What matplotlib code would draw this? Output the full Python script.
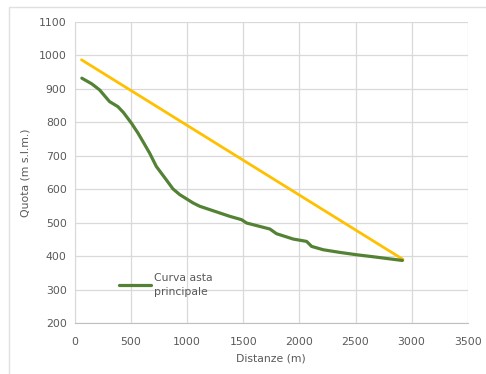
import matplotlib.pyplot as plt
from matplotlib.patches import Rectangle

# main channel profile (distance m, elevation m a.s.l.)
dist = [61, 150, 219, 308, 382, 430, 502, 561, 610, 665, 725, 814, 873, 933,
        1052, 1112, 1290, 1379, 1484, 1529, 1737, 1796, 1945, 2064, 2109,
        2213, 2362, 2511, 2659, 2918]
quota = [932, 915, 897, 862, 847, 830, 798, 768, 740, 708, 668, 628, 601, 584,
         559, 549, 529, 519, 509, 499, 481, 467, 451, 444, 429,
         419, 411, 404, 398, 387]

# straight reference line
retta_x = [58, 2924]
retta_y = [987, 390]

grey_txt = '#595959'
grid_c = '#d9d9d9'

fig = plt.figure(figsize=(4.86, 3.74), dpi=100)
ax = fig.add_axes([75 / 486, 1 - 323 / 374, 392.7 / 486, 301 / 374])

ax.plot(retta_x, retta_y, color='#FFC000', lw=2.0, solid_capstyle='round')
ax.plot(dist, quota, color='#548235', lw=2.3, solid_capstyle='round',
        label='Curva asta\nprincipale')

ax.set_xlim(0, 3500)
ax.set_ylim(200, 1100)
ax.set_xticks(range(0, 3501, 500))
ax.set_yticks(range(200, 1101, 100))
ax.grid(True, color=grid_c, lw=0.9)
ax.set_axisbelow(True)
for s in ['top', 'right']:
    ax.spines[s].set_visible(False)
ax.spines['left'].set_color(grid_c)
ax.spines['bottom'].set_color('#bfbfbf')
ax.tick_params(length=0, colors=grey_txt, labelsize=7.8, pad=6)
ax.tick_params(axis='x', pad=10)

ax.set_xlabel('Distanze (m)', color=grey_txt, fontsize=7.8, labelpad=5)
ax.set_ylabel('Quota (m s.l.m.)', color=grey_txt, fontsize=7.8, labelpad=6)

leg = ax.legend(loc='center left', bbox_to_anchor=(0.113, 0.127),
                frameon=False, fontsize=7.8, labelcolor=grey_txt,
                handlelength=2.9, handletextpad=0.25, borderaxespad=0,
                borderpad=0)
leg.get_texts()[0].set_linespacing(1.5)

# chart area border
fig.patches.append(Rectangle((9 / 486, -0.05), 1.0, 1 - 7 / 374 + 0.05,
                             transform=fig.transFigure, fill=False,
                             edgecolor='#e0e0e0', lw=1.0))

fig.savefig('out.png', dpi=100)
